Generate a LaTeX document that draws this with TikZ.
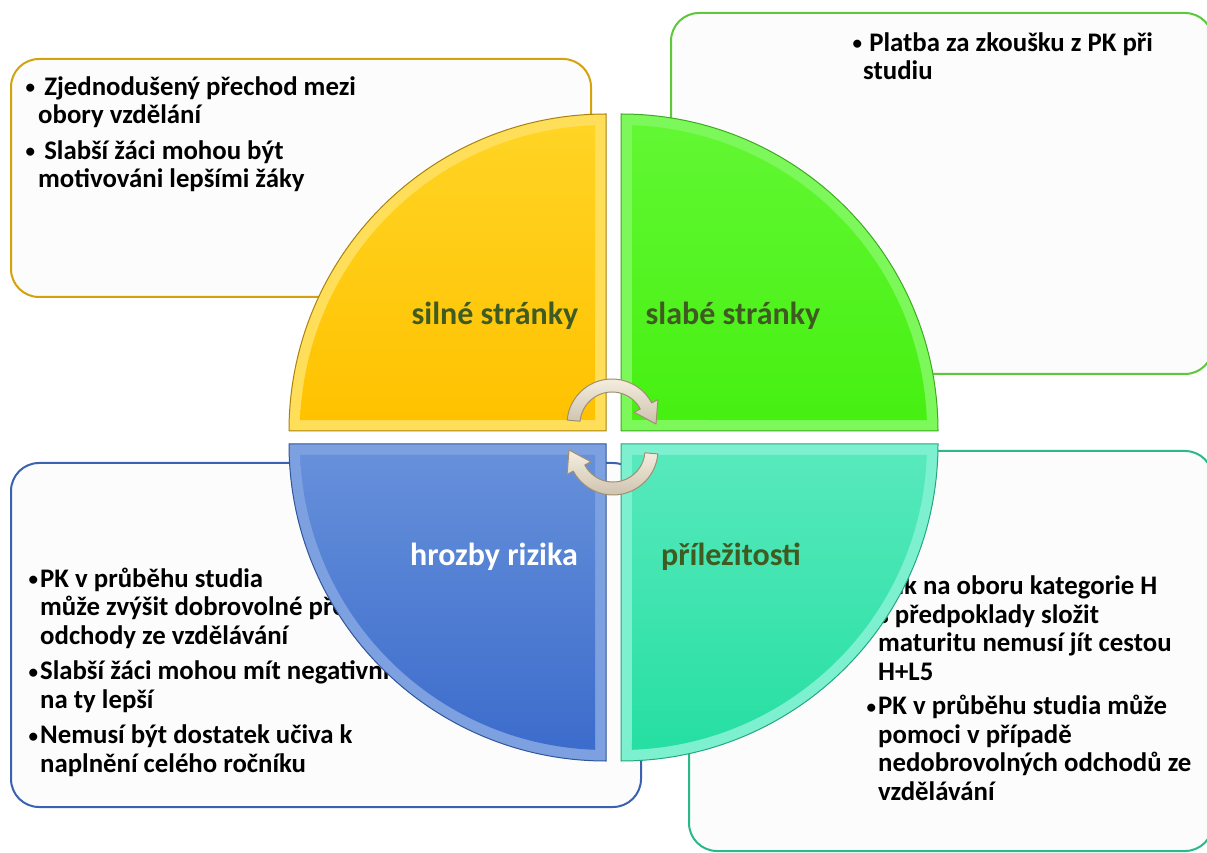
\documentclass[tikz,border=0pt]{standalone}
\usepackage{fontspec}
\setmainfont{Carlito}
\usetikzlibrary{positioning}

\definecolor{goldline}{HTML}{D4A20C}
\definecolor{greenline}{HTML}{5CC83A}
\definecolor{blueline}{HTML}{3A62B0}
\definecolor{tealline}{HTML}{2DB88A}
\definecolor{boxwhite}{HTML}{FCFCFC}
\definecolor{labelgreen}{HTML}{3F5B21}
\definecolor{arrowfill}{HTML}{F0E4CC}
\definecolor{arrowrim}{HTML}{A08E72}

\newcommand{\listfont}{\fontsize{26.8}{28.5}\selectfont\bfseries}
\newcommand{\quadfont}{\fontsize{32}{36}\selectfont\bfseries}
\newcommand{\bul}[1][2pt]{\llap{\raisebox{1.5pt}{\fontsize{19}{19}\selectfont •}\kern#1}}

\tikzset{
  boxframe/.style={draw=#1, line width=2pt, rounded corners=28pt, fill=boxwhite, inner sep=0pt, anchor=north west},
  listtext/.style={font=\listfont, align=left, inner sep=0pt, anchor=base west},
  quadlabel/.style={font=\quadfont, inner sep=0pt, anchor=base},
  cyclearrow/.pic={
    \shadedraw[top color=arrowfill!60!white, bottom color=arrowfill!85!black, draw=arrowrim, line width=1pt, line join=round]
      (175:45) arc[start angle=175, end angle=28, radius=45] -- (28:52) -- (0:44) -- (28:25) -- (28:32)
      arc[start angle=28, end angle=175, radius=32] -- cycle;
  }
}

\begin{document}
\begin{tikzpicture}[x=1pt,y=1pt]
\useasboundingbox (0,0) rectangle (1207,852);

% text boxes (behind the circle), text placed by its last baseline
\node[boxframe=goldline, minimum width=580pt, minimum height=238pt] (SBox)at(10,794) {};
\node[boxframe=greenline, minimum width=542pt, minimum height=361pt] (WBox)at(670,840) {};
\node[boxframe=blueline, minimum width=630pt, minimum height=344pt] (TBox)at(10,390) {};
\node[boxframe=tealline, minimum width=524pt, minimum height=400pt] (OBox)at(688,402) {};

\node[listtext] (SText)at(38,664) {\bul[3pt]\ Zjednodušený přechod mezi\\ obory vzdělání\\[7pt]
  \bul[3pt]\ Slabší žáci mohou být\\ motivováni lepšími žáky};
\node[listtext] (WText)at(863,772) {\bul[1pt]\ Platba za zkoušku z PK při\\ studiu};
\node[listtext] (TText)at(40,80) {\bul PK v průběhu studia\\ může zvýšit dobrovolné pře\\ odchody ze vzdělávání\\[7pt]
  \bul Slabší žáci mohou mít negativní\\ na ty lepší\\[7pt]
  \bul Nemusí být dostatek učiva k\\ naplnění celého ročníku};
\node[listtext] (OText)at(878,52) {\bul Žák na oboru kategorie H\\ s předpoklady složit\\ maturitu nemusí jít cestou\\ H+L5\\[6pt]
  \bul PK v průběhu studia může\\ pomoci v případě\\ nedobrovolných odchodů ze\\ vzdělávání};

% quarters
\begin{scope}[shift={(606,421)}]
  \fill[fill={rgb,255:red,255;green,222;blue,90}, draw=goldline!80!black, line width=1pt] (0,0) -- (90:317) arc[start angle=90, end angle=180, radius=317] -- cycle;
  \shade[top color={rgb,255:red,255;green,212;blue,36}, bottom color={rgb,255:red,255;green,194;blue,0}] (-11,11) -- (92.06:306) arc[start angle=92.06, end angle=177.94, radius=306] -- cycle;
\end{scope}
\begin{scope}[shift={(621,421)}]
  \fill[fill={rgb,255:red,125;green,248;blue,90}, draw={rgb,255:red,61;green,170;blue,34}, line width=1pt] (0,0) -- (90:317) arc[start angle=90, end angle=0, radius=317] -- cycle;
  \shade[top color={rgb,255:red,98;green,247;blue,51}, bottom color={rgb,255:red,70;green,240;blue,17}] (11,11) -- (87.94:306) arc[start angle=87.94, end angle=2.06, radius=306] -- cycle;
\end{scope}
\begin{scope}[shift={(606,408)}]
  \fill[fill={rgb,255:red,125;green,160;blue,224}, draw={rgb,255:red,47;green,85;blue,154}, line width=1pt] (0,0) -- (270:317) arc[start angle=270, end angle=180, radius=317] -- cycle;
  \shade[top color={rgb,255:red,102;green,144;blue,218}, bottom color={rgb,255:red,60;green,108;blue,204}] (-11,-11) -- (267.94:306) arc[start angle=267.94, end angle=182.06, radius=306] -- cycle;
\end{scope}
\begin{scope}[shift={(621,408)}]
  \fill[fill={rgb,255:red,125;green,240;blue,208}, draw={rgb,255:red,36;green,167;blue,126}, line width=1pt] (0,0) -- (270:317) arc[start angle=270, end angle=360, radius=317] -- cycle;
  \shade[top color={rgb,255:red,87;green,233;blue,188}, bottom color={rgb,255:red,38;green,223;blue,162}] (11,-11) -- (272.06:306) arc[start angle=272.06, end angle=357.94, radius=306] -- cycle;
\end{scope}

\node[quadlabel, text=labelgreen] (silne)at(495,527) {silné stránky};
\node[quadlabel, text=labelgreen] (slabe)at(733,527) {slabé stránky};
\node[quadlabel, text=white] (hrozby)at(494,287) {hrozby rizika};
\node[quadlabel, text=labelgreen] (prilez)at(731,287) {příležitosti};

% cycle arrows in the middle
\pic (CycleTop) at (612,428) {cyclearrow};
\pic[rotate=180] (CycleBottom) at (613,402) {cyclearrow};
\end{tikzpicture}
\end{document}
